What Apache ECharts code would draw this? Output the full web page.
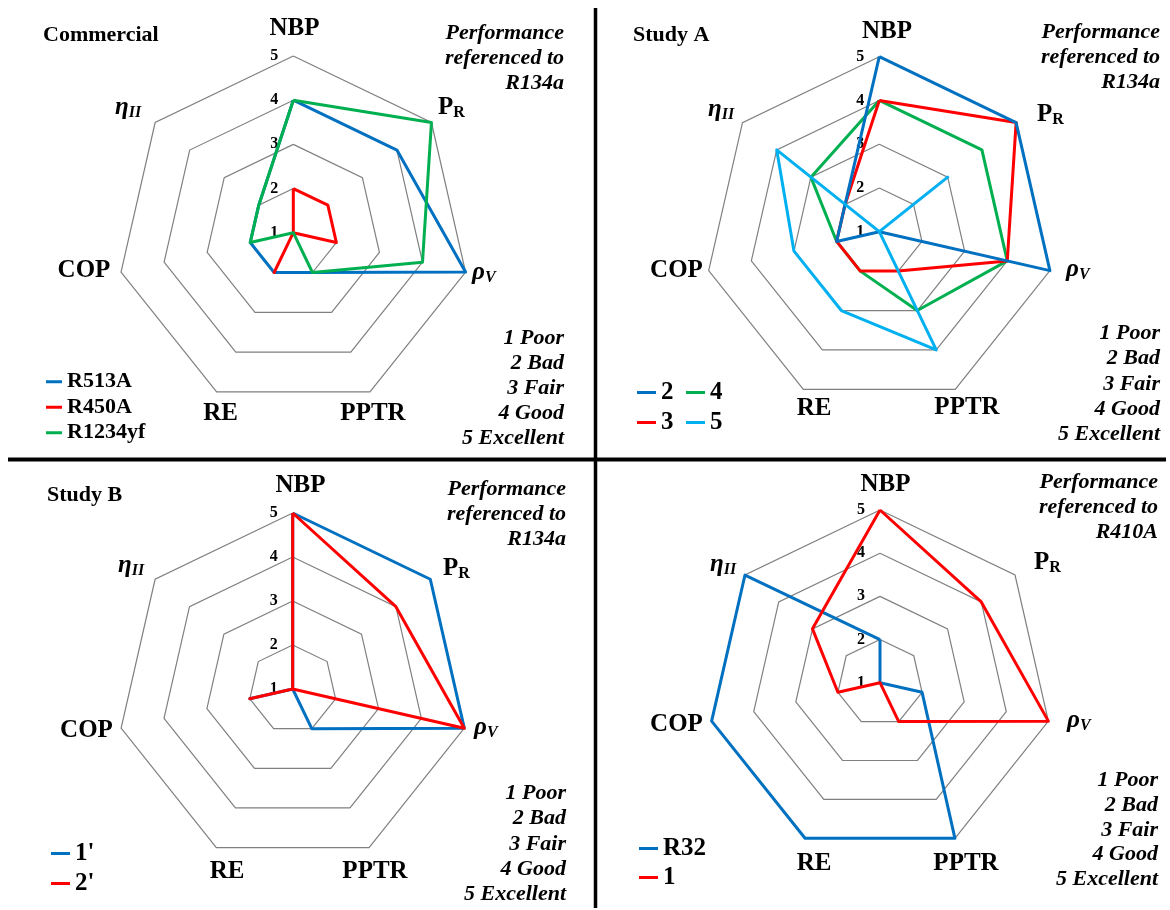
<!DOCTYPE html>
<html>
<head>
<meta charset="utf-8">
<script src="https://cdn.jsdelivr.net/npm/echarts@6/dist/echarts.min.js"></script>
<style>
html,body{margin:0;padding:0;background:#fff;}
#chart{width:1170px;height:910px;}
</style>
</head>
<body>
<div id="chart"></div>
<script>
// ---------- data ----------
// axis order (clockwise from top): NBP, P_R, rho_V, PPTR, RE, COP, eta_II
const axisNames = ['NBP', 'PR', 'ρV', 'PPTR', 'RE', 'COP', 'ηII'];
const tickLabels = ['1', '2', '3', '4', '5'];
const ratingLabels = ['1 Poor', '2 Bad', '3 Fair', '4 Good', '5 Excellent'];
const panelTitles = ['Commercial', 'Study A', 'Study B', ''];
const referenceLabels = ['R134a', 'R134a', 'R134a', 'R410A'];

const commercialNames = ['R513A', 'R450A', 'R1234yf'];
const commercialR513A = [4, 4, 5, 2, 2, 2, 2];
const commercialR450A = [2, 2, 2, 1, 2, 1, 1];
const commercialR1234yf = [4, 5, 4, 2, 1, 2, 2];

const studyANames = ['2', '3', '4', '5'];
const studyA2 = [5, 5, 5, 1, 1, 2, 2];
const studyA3 = [4, 5, 4, 2, 2, 2, 2];
const studyA4 = [4, 4, 4, 3, 2, 2, 3];
const studyA5 = [1, 3, 1, 4, 3, 3, 4];

const studyBNames = ["1'", "2'"];
const studyB1 = [5, 5, 5, 2, 1, 2, 1];
const studyB2 = [5, 4, 5, 1, 1, 2, 1];

const r410Names = ['R32', '1'];
const r410R32 = [2, 1, 2, 5, 5, 5, 5];
const r410One = [5, 4, 5, 2, 1, 2, 3];

// ---------- styling ----------
const FONT = '"Liberation Serif", "Times New Roman", serif';
const BLUE = '#0070C0', RED = '#FF0000', GREEN = '#00B050', CYAN = '#00B0F0';
// ECharts lays indicators counter-clockwise; reorder so the picture runs clockwise
const ORDER = [0, 6, 5, 4, 3, 2, 1];
const ccw = a => ORDER.map(i => a[i]);

const radarGeom = [
  { center: [293.3, 232.7], radius: 176.7 },
  { center: [879.3, 231.7], radius: 175 },
  { center: [292.7, 689], radius: 176 },
  { center: [880, 682.7], radius: 172.7 }
];

const radar = radarGeom.map(g => ({
  center: g.center,
  radius: g.radius,
  startAngle: 90,
  shape: 'polygon',
  splitNumber: 4,
  indicator: ORDER.map((i, k) => {
    const ind = { name: axisNames[i], min: 1, max: 5 };
    if (k === 0) {
      ind.axisLabel = {
        show: true, color: '#000', fontFamily: FONT, fontWeight: 'bold', fontSize: 16, margin: 15,
        formatter: v => tickLabels[Math.round(v) - 1]
      };
    }
    return ind;
  }),
  axisName: { show: false },
  axisLine: { show: false },
  axisTick: { show: false },
  axisLabel: { show: false },
  splitLine: { lineStyle: { color: '#808080', width: 1.2 } },
  splitArea: { show: false }
}));

function rs(radarIndex, name, values, color) {
  return {
    type: 'radar', radarIndex, name, color, silent: true,
    symbol: 'none',
    lineStyle: { color, width: 3 },
    itemStyle: { color },
    data: [{ name, value: ccw(values) }]
  };
}

const series = [
  rs(0, commercialNames[0], commercialR513A, BLUE),
  rs(0, commercialNames[1], commercialR450A, RED),
  rs(0, commercialNames[2], commercialR1234yf, GREEN),
  rs(1, studyANames[2], studyA4, GREEN),
  rs(1, studyANames[1], studyA3, RED),
  rs(1, studyANames[0], studyA2, BLUE),
  rs(1, studyANames[3], studyA5, CYAN),
  rs(2, studyBNames[0], studyB1, BLUE),
  rs(2, studyBNames[1], studyB2, RED),
  rs(3, r410Names[0], r410R32, BLUE),
  rs(3, r410Names[1], r410One, RED)
];

function lg(data, left, top, lh, fs, iw) {
  return {
    data, orient: 'vertical', left, top, padding: 0, itemGap: 0,
    itemWidth: iw, itemHeight: 3, icon: 'rect', selectedMode: false,
    textStyle: { fontFamily: FONT, fontWeight: 'bold', fontSize: fs, color: '#000', lineHeight: lh }
  };
}

const legend = [
  lg(commercialNames, 46, 369, 25.5, 22, 16),
  lg([studyANames[0], studyANames[1]], 637, 377.5, 30, 25, 19),
  lg([studyANames[2], studyANames[3]], 686, 377.5, 30, 25, 19),
  lg(studyBNames, 51, 838.5, 30, 25, 19),
  lg(r410Names, 639, 834, 29, 25, 19)
];

// ---------- text helpers ----------
function txt(text, x, y, o) {
  return {
    type: 'text', x, y, z: 50, silent: true,
    style: Object.assign({
      text, fill: '#000', fontFamily: FONT, fontWeight: 'bold', fontSize: 25,
      align: 'center', verticalAlign: 'middle'
    }, o || {})
  };
}
function subTxt(main, sub, x, y, italic) {
  const fs = italic ? 'italic' : 'normal';
  return {
    type: 'text', x, y, z: 50, silent: true,
    style: {
      text: '{m|' + main + '}{s|' + sub + '}',
      align: 'left', verticalAlign: 'middle',
      rich: {
        m: { fill: '#000', fontFamily: FONT, fontWeight: 'bold', fontStyle: fs, fontSize: 25, lineHeight: 26 },
        s: { fill: '#000', fontFamily: FONT, fontWeight: 'bold', fontStyle: fs, fontSize: 16, lineHeight: 8, verticalAlign: 'bottom' }
      }
    }
  };
}

// label positions per panel
const labelPos = [
  { nbp: [294.5, 29], pr: [438, 107.5], rho: [472, 273], pptr: [373, 414], re: [220.5, 414], cop: [84, 270.5], eta: [115, 108],
    title: [43, 35.5], perf: [564, 58.5, 25.25], rate: [564, 388.5, 25] },
  { nbp: [887, 32], pr: [1037, 114.5], rho: [1066, 270], pptr: [967, 408], re: [814, 409], cop: [676.5, 271], eta: [708, 110],
    title: [633, 35], perf: [1160, 57, 25], rate: [1160, 384, 25.25] },
  { nbp: [300.5, 485.5], pr: [443, 568.5], rho: [474, 728], pptr: [375, 871.5], re: [227, 871.5], cop: [86.5, 731], eta: [118, 566],
    title: [47, 495], perf: [566, 514.5, 25.25], rate: [566, 844, 25.25] },
  { nbp: [885.5, 485], pr: [1034, 562.5], rho: [1067, 721], pptr: [966, 863.5], re: [814, 863.5], cop: [676.5, 725], eta: [710, 565],
    title: [0, 0], perf: [1158, 507.5, 25], rate: [1158, 830, 24.6] }
];

const graphic = [];
labelPos.forEach((p, i) => {
  graphic.push(txt(axisNames[0], p.nbp[0], p.nbp[1]));
  graphic.push(subTxt('P', 'R', p.pr[0], p.pr[1], false));
  graphic.push(subTxt('ρ', 'V', p.rho[0], p.rho[1], true));
  graphic.push(txt(axisNames[3], p.pptr[0], p.pptr[1]));
  graphic.push(txt(axisNames[4], p.re[0], p.re[1]));
  graphic.push(txt(axisNames[5], p.cop[0], p.cop[1]));
  graphic.push(subTxt('η', 'II', p.eta[0], p.eta[1], true));
  if (panelTitles[i]) {
    graphic.push(txt(panelTitles[i], p.title[0], p.title[1], { fontSize: 22, align: 'left' }));
  }
  graphic.push(txt('Performance\nreferenced to\n' + referenceLabels[i], p.perf[0], p.perf[1],
    { fontSize: 22, fontStyle: 'italic', align: 'right', lineHeight: p.perf[2] }));
  graphic.push(txt(ratingLabels.join('\n'), p.rate[0], p.rate[1],
    { fontSize: 22, fontStyle: 'italic', align: 'right', lineHeight: p.rate[2] }));
});
// quadrant separators
graphic.push({ type: 'line', z: 60, silent: true, shape: { x1: 595.5, y1: 8, x2: 595.5, y2: 908 }, style: { stroke: '#000', lineWidth: 3.5 } });
graphic.push({ type: 'line', z: 60, silent: true, shape: { x1: 8, y1: 459.5, x2: 1166, y2: 459.5 }, style: { stroke: '#000', lineWidth: 4 } });

const chart = echarts.init(document.getElementById('chart'), null, { renderer: 'canvas' });
chart.setOption({
  backgroundColor: '#ffffff',
  animation: false,
  textStyle: { fontFamily: FONT },
  radar,
  legend,
  series,
  graphic
});
</script>
</body>
</html>
